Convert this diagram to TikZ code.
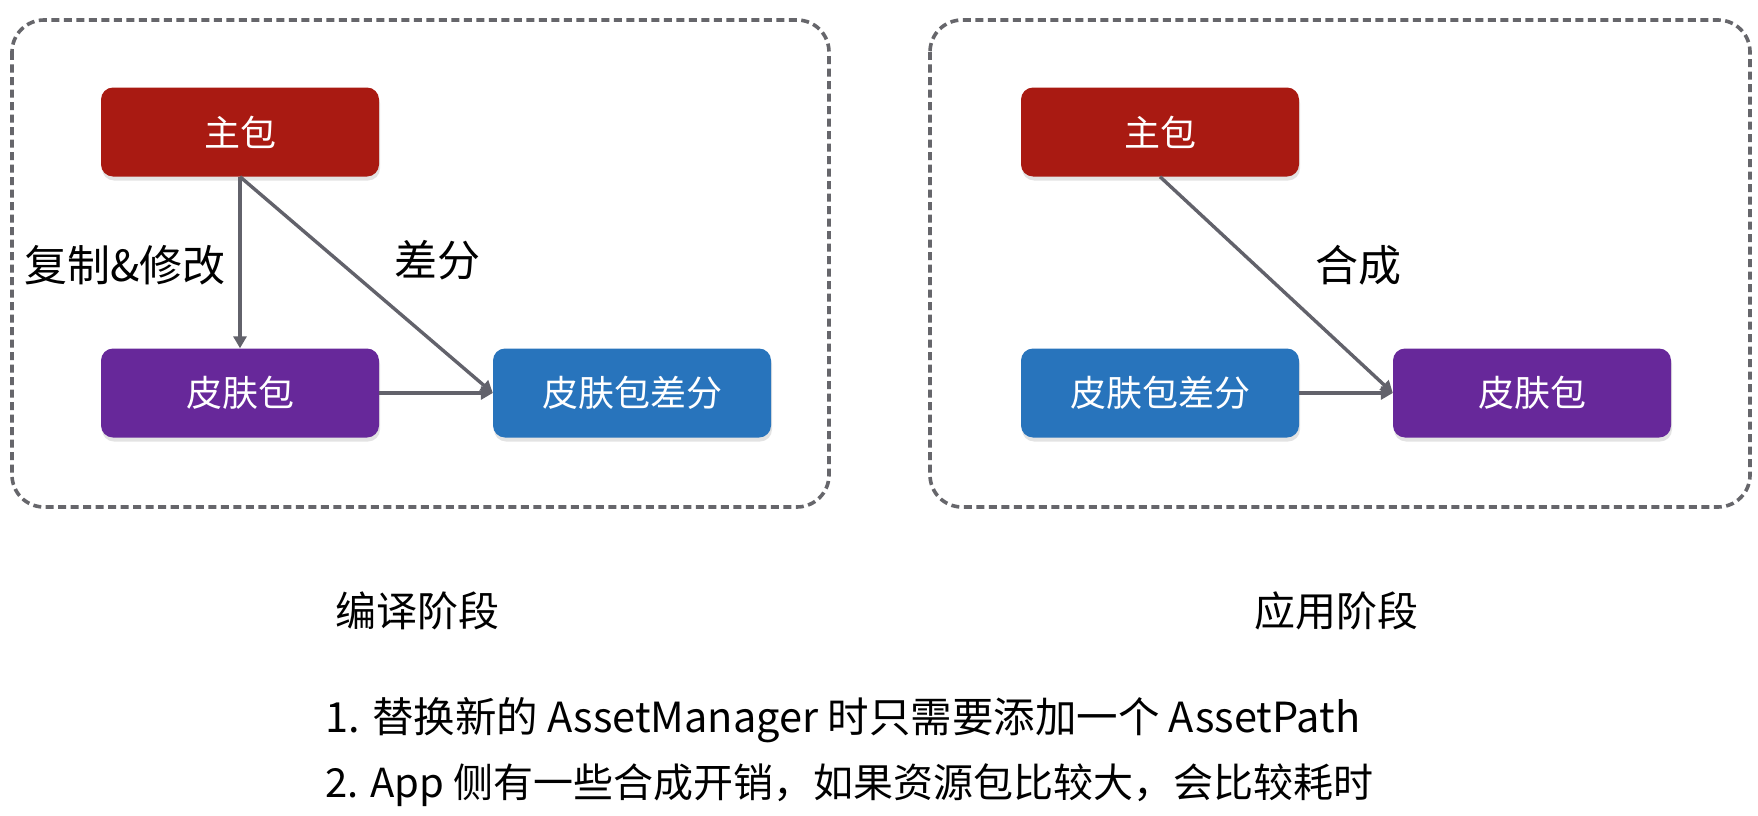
\documentclass[tikz,border=0pt]{standalone}
\usepackage{fontspec}
\setmainfont{Noto Sans CJK SC}
\usetikzlibrary{arrows.meta,shadows}
\definecolor{mainred}{HTML}{A91A12}
\definecolor{skinpurple}{HTML}{67289A}
\definecolor{diffblue}{HTML}{2874BC}
\definecolor{arrowgray}{HTML}{62626B}
\definecolor{framegray}{HTML}{66666B}
\tikzset{
  pkg/.style={rounded corners=12pt, minimum width=278pt, minimum height=89pt,
    text=white, font=\fontsize{36}{42}\selectfont, inner sep=0pt,
    drop shadow={opacity=0.22, shadow xshift=1pt, shadow yshift=-4pt}},
  frame/.style={draw=framegray, line width=3.6pt, dash pattern=on 8pt off 4.5pt, rounded corners=32pt},
  conn/.style={draw=arrowgray, line width=3.4pt, -{Triangle[length=12pt,width=13pt]}},
  lbl/.style={font=\fontsize{43}{48}\selectfont, text=black, inner sep=0pt},
  stagecaption/.style={font=\fontsize{41}{46}\selectfont, text=black, inner sep=0pt},
  note/.style={font=\fontsize{41.5}{46}\selectfont, text=black, inner sep=0pt, anchor=west}
}
\begin{document}
\begin{tikzpicture}[x=1pt,y=-1pt]
\useasboundingbox[fill=white] (0,0) rectangle (1758,816);
% frames
\draw[frame] (12,20) rectangle (829,507);
\draw[frame] (930,20) rectangle (1750,507);
% left stage
\node[pkg, fill=mainred] (mainL) at (240,132) {主包};
\node[pkg, fill=skinpurple] (skinL) at (240,393) {皮肤包};
\node[pkg, fill=diffblue] (diffL) at (632,393) {皮肤包差分};
\draw[conn] (mainL.south) -- (skinL.north);
\draw[conn] (mainL.south) -- (diffL.west);
\draw[conn] (skinL.east) -- (diffL.west);
\node[lbl] (copyLbl) at (125,265) {复制\&修改};
\node[lbl] (diffLbl) at (437,260) {差分};
% right stage
\node[pkg, fill=mainred] (mainR) at (1160,132) {主包};
\node[pkg, fill=diffblue] (diffR) at (1160,393) {皮肤包差分};
\node[pkg, fill=skinpurple] (skinR) at (1532,393) {皮肤包};
\draw[conn] (mainR.south) -- (skinR.west);
\draw[conn] (diffR.east) -- (skinR.west);
\node[lbl] (mergeLbl) at (1358,265) {合成};
% stage captions
\node[stagecaption] (compileCap) at (417,611) {编译阶段};
\node[stagecaption] (applyCap) at (1336,611) {应用阶段};
% notes
\node[note] (note1) at (325,720) {1. 替换新的 AssetManager 时只需要添加一个 AssetPath};
\node[note, font=\fontsize{40}{46}\selectfont] (note2) at (325,785) {2. App 侧有一些合成开销，如果资源包比较大，会比较耗时};
\end{tikzpicture}
\end{document}
